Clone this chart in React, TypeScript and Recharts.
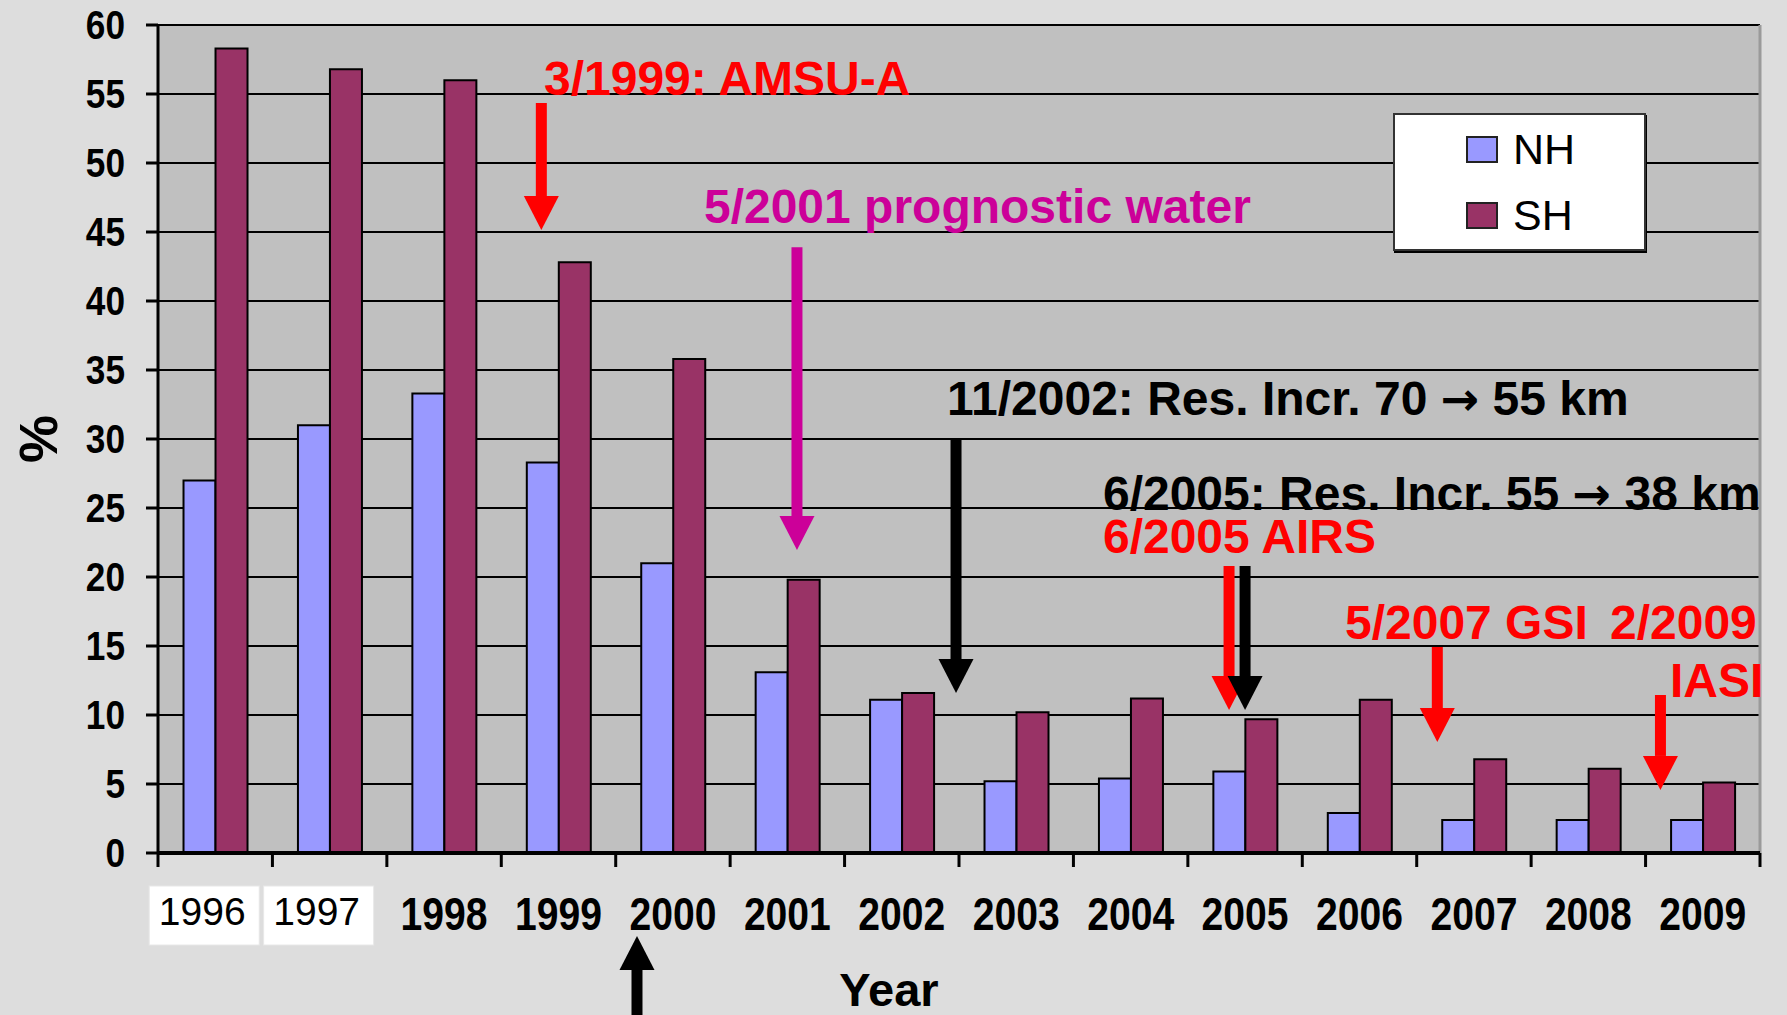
import { BarChart, Bar, XAxis, YAxis, CartesianGrid, Legend, ReferenceLine, ReferenceDot } from "recharts"

// values (percent per year)
const years = ["1996", "1997", "1998", "1999", "2000", "2001", "2002", "2003", "2004", "2005", "2006", "2007", "2008", "2009"]
const nhValues = [27, 31, 33.3, 28.3, 21, 13.1, 11.1, 5.2, 5.4, 5.9, 2.9, 2.4, 2.4, 2.4]
const shValues = [58.3, 56.8, 56, 42.8, 35.8, 19.8, 11.6, 10.2, 11.2, 9.7, 11.1, 6.8, 6.1, 5.1]
const yTicks = [0, 5, 10, 15, 20, 25, 30, 35, 40, 45, 50, 55, 60]
const boxedYears = ["1996", "1997"]

const RED = "#ff0000"
const MAGENTA = "#cc0099"
const BLACK = "#000000"

// annotation text, anchored in chart units (x: year slots from the left edge, y: percent)
const noteTexts = ["3/1999: AMSU-A", "5/2001 prognostic water", "11/2002: Res. Incr. 70 \u2192 55 km", "6/2005: Res. Incr. 55 \u2192 38 km", "6/2005 AIRS", "5/2007 GSI", "2/2009", "IASI"]
const noteColors = [RED, MAGENTA, BLACK, BLACK, RED, RED, RED, RED]
const noteX = [3.373, 4.771, 6.895, 8.258, 8.258, 10.373, 12.689, 13.213]
const noteY = [54.93, 45.65, 31.74, 24.86, 21.74, 15.51, 15.51, 11.3]

// arrows: x slot, start value, tip value
const arrowColors = [RED, MAGENTA, BLACK, RED, BLACK, RED, RED, BLACK]
const arrowX = [3.35, 5.584, 6.974, 9.36, 9.5, 11.18, 13.13, 4.186]
const arrowFrom = [54.35, 43.9, 30.0, 20.8, 20.8, 14.93, 11.45, -11.74]
const arrowTo = [45.14, 21.96, 11.6, 10.36, 10.36, 8.04, 4.57, -6.01]

const data = years.map((year, i) => ({ year, NH: nhValues[i], SH: shValues[i] }))

const CHART_W = 1787
const CHART_H = 1015
const Y_AXIS_W = 158
const MARGIN = { top: 25, right: 27, bottom: 0, left: 0 }
const BAND = (CHART_W - Y_AXIS_W - MARGIN.right) / years.length

const SANS = "'Liberation Sans', Arial, sans-serif"

// slot position -> category + pixel shift from that band's centre
function slot(s: number) {
  const i = Math.max(0, Math.min(years.length - 1, Math.floor(s)))
  return { year: years[i], shift: (s - i - 0.5) * BAND }
}

function YearTick(props: any) {
  const { x, y, payload, index, visibleTicksCount } = props
  const half = BAND / 2
  const axisY = y - 14
  const label = String(payload.value)
  const boxed = boxedYears.includes(label)
  return (
    <g>
      <line x1={x - half} x2={x - half} y1={axisY} y2={y} stroke="#000" strokeWidth={3} />
      {index === visibleTicksCount - 1 && (
        <line x1={x + half} x2={x + half} y1={axisY} y2={y} stroke="#000" strokeWidth={3} />
      )}
      {boxed ? (
        <g>
          <rect x={x - 66} y={y + 19} width={110} height={59} fill="#fff" stroke="#e8e8e8" />
          <text x={x - 13} y={y + 58} textAnchor="middle" fontSize={39} fontFamily={SANS} fill="#000">
            {label}
          </text>
        </g>
      ) : (
        <text transform={`translate(${x} ${y + 63}) scale(0.85 1)`} textAnchor="middle" fontSize={46} fontWeight={700} fontFamily={SANS} fill="#000">
          {label}
        </text>
      )}
    </g>
  )
}

function PercentTick(props: any) {
  const { x, y, payload } = props
  return (
    <text transform={`translate(${x} ${y}) scale(0.88 1)`} dy="0.355em" textAnchor="end" fontSize={40} fontWeight={700} fontFamily={SANS} fill="#000">
      {payload.value}
    </text>
  )
}

function Arrow(props: any) {
  const { x1, y1, y2, stroke, shift } = props
  const x = x1 + shift
  const dir = y2 > y1 ? 1 : -1
  const headLen = 34
  const headW = 35
  const baseY = y2 - dir * headLen
  return (
    <g>
      <line x1={x} y1={y1} x2={x} y2={baseY} stroke={stroke} strokeWidth={11} />
      <polygon points={`${x - headW / 2},${baseY} ${x + headW / 2},${baseY} ${x},${y2}`} fill={stroke} />
    </g>
  )
}

function NoteText({ x, y, color, text }: any) {
  const parts = text.split("\u2192")
  return (
    <text x={x} y={y} fontSize={48} fontWeight={700} fontFamily={SANS} fill={color}>
      {parts.length > 1 ? (
        <>
          {parts[0]}
          <tspan fontFamily="'DejaVu Sans', sans-serif" fontSize={46}>{"\u2192"}</tspan>
          {parts[1]}
        </>
      ) : (
        text
      )}
    </text>
  )
}

function renderLegend(props: any) {
  const items = props.payload || []
  return (
    <div
      style={{
        background: "#fff",
        border: "2px solid #333",
        boxShadow: "1px 2px 0 #000",
        boxSizing: "border-box",
        width: 253,
        height: 138,
        paddingTop: 1,
        paddingLeft: 71,
        fontFamily: SANS,
        fontSize: 43,
        color: "#000",
      }}
    >
      {items.map((it: any) => (
        <div key={it.value} style={{ display: "flex", alignItems: "center", height: 66 }}>
          <span style={{ display: "inline-block", width: 32, height: 27, background: it.color, border: "2px solid #222", boxSizing: "border-box", marginRight: 15 }} />
          <span style={{ lineHeight: 1 }}>{it.value}</span>
        </div>
      ))}
    </div>
  )
}

export default function App() {
  return (
    <div style={{ position: "absolute", left: 0, top: 0, width: CHART_W, height: CHART_H, background: "#dddddd", overflow: "hidden" }}>
      <BarChart width={CHART_W} height={CHART_H} data={data} margin={MARGIN} barCategoryGap="22.3%" barGap={0}>
        <CartesianGrid vertical={false} stroke="#000" strokeWidth={2} fill="#c0c0c0" fillOpacity={1} />
        <XAxis
          dataKey="year"
          interval={0}
          height={162}
          tickLine={false}
          tickSize={14}
          tickMargin={0}
          axisLine={{ stroke: "#000", strokeWidth: 4 }}
          tick={(p: any) => <YearTick {...p} />}
          label={(p: any) => {
            const vb = p.viewBox
            return (
              <text x={vb.x + vb.width / 2 - 70} y={vb.y + vb.height - 9} textAnchor="middle" fontSize={47} fontWeight={700} fontFamily={SANS} fill="#000">
                Year
              </text>
            )
          }}
        />
        <YAxis
          width={Y_AXIS_W}
          domain={[0, 60]}
          ticks={yTicks}
          interval={0}
          tickSize={12}
          tickMargin={21}
          axisLine={{ stroke: "#000", strokeWidth: 3 }}
          tickLine={{ stroke: "#000", strokeWidth: 3 }}
          tick={(p: any) => <PercentTick {...p} />}
          label={(p: any) => {
            const vb = p.viewBox
            const cy = vb.y + vb.height / 2
            return (
              <text x={38} y={cy} transform={`rotate(-90 38 ${cy})`} textAnchor="middle" dominantBaseline="central" fontSize={54} fontWeight={700} fontFamily={SANS} fill="#000">
                %
              </text>
            )
          }}
        />
        <Legend layout="vertical" align="center" verticalAlign="middle" content={renderLegend} wrapperStyle={{ left: 1393, top: 113, width: 253, height: 138 }} />
        <Bar dataKey="NH" name="NH" fill="#9999ff" stroke="#000" strokeWidth={2} isAnimationActive={false} />
        <Bar dataKey="SH" name="SH" fill="#993366" stroke="#000" strokeWidth={2} isAnimationActive={false} />
        <ReferenceLine
          segment={[{ x: years[years.length - 1], y: 0 }, { x: years[years.length - 1], y: 60 }]}
          stroke="#9a9a9a"
          ifOverflow="visible"
          shape={(p: any) => <line x1={p.x1 + BAND / 2} x2={p.x2 + BAND / 2} y1={p.y1} y2={p.y2} stroke="#9a9a9a" strokeWidth={3} />}
        />
        {arrowX.map((ax, i) => {
          const s = slot(ax)
          return (
            <ReferenceLine
              key={`a${i}`}
              segment={[{ x: s.year, y: arrowFrom[i] }, { x: s.year, y: arrowTo[i] }]}
              stroke={arrowColors[i]}
              ifOverflow="visible"
              shape={(p: any) => <Arrow {...p} shift={s.shift} />}
            />
          )
        })}
        {noteTexts.map((t, i) => {
          const s = slot(noteX[i])
          return (
            <ReferenceDot
              key={`t${i}`}
              x={s.year}
              y={noteY[i]}
              r={0}
              ifOverflow="visible"
              shape={(p: any) => <NoteText x={p.cx + s.shift} y={p.cy} color={noteColors[i]} text={t} />}
            />
          )
        })}
      </BarChart>
    </div>
  )
}
